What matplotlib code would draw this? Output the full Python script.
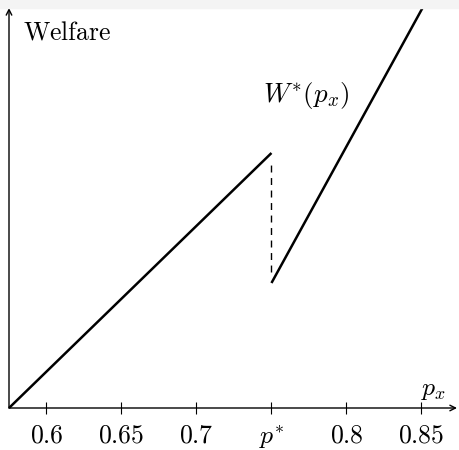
import matplotlib
matplotlib.use("Agg")
import matplotlib.pyplot as plt
from matplotlib.patches import Rectangle

plt.rcParams['mathtext.fontset'] = 'cm'
plt.rcParams['font.family'] = 'serif'
plt.rcParams['font.serif'] = ['cmr10', 'DejaVu Serif']
plt.rcParams['axes.formatter.use_mathtext'] = True

# welfare below and above the threshold p*
p_star = 0.75
p_low = [0.575, 0.75]
w_low = [0, 255]
p_high = [0.75, 0.8507]
w_high = [125, 400]

tick_pos = [0.6, 0.65, 0.7, 0.75, 0.8, 0.85]
tick_labels = ['$0.6$', '$0.65$', '$0.7$', '$p^{*}$', '$0.8$', '$0.85$']

fig = plt.figure(figsize=(4.59, 4.5), dpi=100)
fig.patches.append(Rectangle((0, 1 - 8 / 450), 1, 8 / 450, transform=fig.transFigure,
                             color='#f4f4f4', zorder=0))
ax = fig.add_axes([9 / 459, 42 / 450, 448 / 459, 400 / 450])
ax.set_xlim(0.575, 0.8737)
ax.set_ylim(0, 400)
for s in ax.spines.values():
    s.set_visible(False)

ax.plot(p_low, w_low, color='black', lw=1.8, solid_capstyle='butt', clip_on=False)
ax.plot(p_high, w_high, color='black', lw=1.8, solid_capstyle='butt', clip_on=False)
ax.plot([p_star, p_star], [w_high[0] + 11, w_low[1] - 12], color='black', lw=1.0,
        dashes=(5, 4))

# axes with arrows
ax.annotate('', xy=(1.0, 0), xytext=(0, 0), xycoords='axes fraction',
            arrowprops=dict(arrowstyle='->', color='black', lw=1.0, shrinkA=0, shrinkB=0))
ax.annotate('', xy=(0, 1.0), xytext=(0, 0), xycoords='axes fraction',
            arrowprops=dict(arrowstyle='->', color='black', lw=1.0, shrinkA=0, shrinkB=0))

ax.set_yticks([])
ax.set_xticks(tick_pos)
ax.set_xticklabels(tick_labels, fontsize=18.5)
ax.tick_params(axis='x', direction='inout', length=9, width=0.8, pad=7)

ax.text(0.5843, 369, r'$\mathrm{Welfare}$', fontsize=18.5, ha='left', va='baseline')
ax.text(0.8663, 13, r'$p_x$', fontsize=18.5, ha='right', va='baseline')
ax.text(0.8023, 306, r'$W^{*}(p_x)$', fontsize=19.5, ha='right', va='baseline')

fig.savefig('out.png', dpi=100, facecolor='white')
